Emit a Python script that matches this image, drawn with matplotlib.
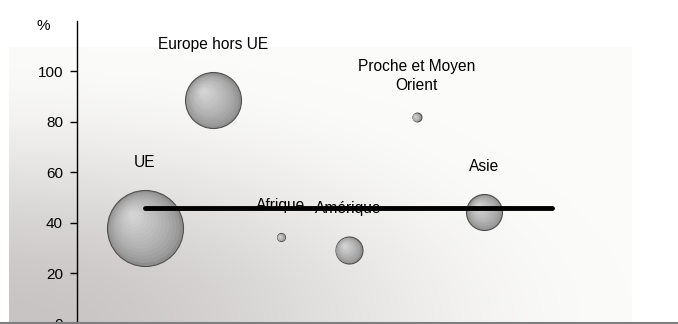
import numpy as np
import matplotlib.pyplot as plt
from matplotlib import transforms as mtransforms

plt.rcParams['font.family'] = ['Liberation Sans', 'DejaVu Sans']

# data
regions = ["UE", "Europe hors UE", "Afrique", "Amérique",
           "Proche et Moyen\nOrient", "Asie"]
xpos = [1, 2, 3, 4, 5, 6]
share = [38.0, 88.5, 34.1, 29.2, 81.7, 44.1]
weight = [1444, 784, 16, 182, 20, 324]   # bubble area (arbitrary units)
mean_x = [1, 7]
mean_y = [45.8, 45.8]
yticks = [0, 20, 40, 60, 80, 100]

W, H = 678, 324
fig = plt.figure(figsize=(W / 100, H / 100), dpi=100)
fig.patch.set_facecolor("white")

# background gradient (dark bottom-left -> white top-right)
bg = fig.add_axes([9 / W, 0, (632 - 9) / W, (324 - 47) / H])
bg.set_axis_off()
u = np.linspace(0, 1, 300)
v = np.linspace(1, 0, 150)
U, V = np.meshgrid(u, v)
d = np.clip(np.sqrt(U ** 2 + V ** 2), 0, 1)
f = 3 * d ** 2 - 2 * d ** 3
img = np.zeros(U.shape + (3,))
img[..., 0] = (199 + (251 - 199) * f) / 255
img[..., 1] = (196 + (251 - 196) * f) / 255
img[..., 2] = (195 + (250 - 195) * f) / 255
bg.imshow(img, aspect="auto", extent=[0, 1, 0, 1], interpolation="bilinear")

ax = fig.add_axes([77 / W, 0.5 / H, (W - 77) / W, (323.4 - 20.7) / H])
ax.patch.set_alpha(0)
ax.set_xlim(0, (W - 77) / 67.9)
ax.set_ylim(0, 120)
for s in ["top", "right", "bottom"]:
    ax.spines[s].set_visible(False)
ax.spines["left"].set_linewidth(1)
ax.set_xticks([])
ax.set_yticks(yticks)
ax.tick_params(axis="y", length=5, width=1, pad=5, labelsize=11)

# shaded bubbles
n = 14
for x, y, w in zip(xpos, share, weight):
    r = 0.72 * np.sqrt(w)
    ax.scatter([x], [y], s=(2 * r) ** 2, color="#8e8e8e",
               edgecolor="#505050", linewidth=0.8, zorder=3)
    for k in range(1, n):
        t = k / n
        fr = 1 - 0.95 * t
        c = 0.56 + (0.84 - 0.56) * t ** 0.7
        tr = mtransforms.offset_copy(ax.transData, fig=fig,
                                     x=-0.35 * r * t, y=0.35 * r * t,
                                     units="points")
        ax.scatter([x], [y], s=(2 * r * fr) ** 2, color=(c, c, c),
                   linewidth=0, transform=tr, zorder=3)

for x, y, w, name in zip(xpos, share, weight, regions):
    r = 0.72 * np.sqrt(w)
    ax.annotate(name, (x, y), xytext=(0, r + 14.5), textcoords="offset points",
                ha="center", va="bottom", fontsize=11.2, linespacing=1.3,
                zorder=4)

ax.plot(mean_x, mean_y, color="black", linewidth=3.5,
        solid_capstyle="round", zorder=5)

fig.add_artist(plt.Line2D([0, 1], [1.2 / H, 1.2 / H], color="#7f7f7f",
                          linewidth=1.5, transform=fig.transFigure))
fig.text(43 / W, 1 - 26 / H, "%", ha="center", va="center", fontsize=11)

fig.savefig("out.png", dpi=100)
